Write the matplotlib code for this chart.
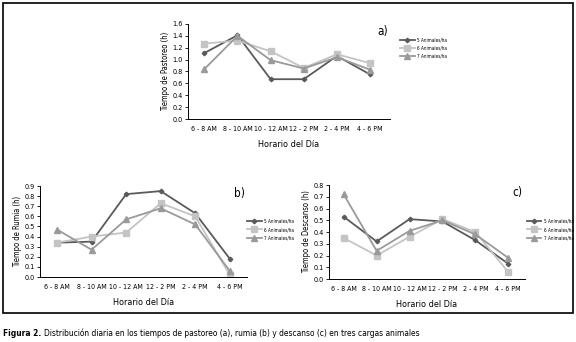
import matplotlib.pyplot as plt
from matplotlib.patches import Rectangle

plt.rcParams['font.family'] = ['DejaVu Sans']
plt.rcParams['font.stretch'] = 'condensed'

horas = ["6 - 8 AM", "8 - 10 AM", "10 - 12 AM", "12 - 2 PM", "2 - 4 PM", "4 - 6 PM"]
series = ["5 Animales/ha", "6 Animales/ha", "7 Animales/ha"]

# a) pastoreo
past_5 = [1.11, 1.41, 0.67, 0.67, 1.06, 0.75]
past_6 = [1.27, 1.32, 1.14, 0.86, 1.09, 0.94]
past_7 = [0.84, 1.40, 0.99, 0.85, 1.04, 0.83]
# b) rumia
rum_5 = [0.34, 0.35, 0.82, 0.85, 0.63, 0.18]
rum_6 = [0.34, 0.40, 0.44, 0.73, 0.60, 0.02]
rum_7 = [0.47, 0.27, 0.57, 0.68, 0.52, 0.06]
# c) descanso
desc_5 = [0.53, 0.32, 0.51, 0.49, 0.33, 0.13]
desc_6 = [0.35, 0.20, 0.36, 0.51, 0.40, 0.06]
desc_7 = [0.72, 0.24, 0.41, 0.50, 0.38, 0.18]

colores = ["#5a5a5a", "#c4c4c4", "#9a9a9a"]
marcas = ["D", "s", "^"]
tam = [2.3, 4.8, 4]

fig = plt.figure(figsize=(5.76, 3.42), dpi=100)
fig.patches.append(Rectangle((3/576, 1 - 313/342), 570/576, 310/342, transform=fig.transFigure,
                             fill=False, edgecolor="black", linewidth=1.2))


def panel(rect, datos, ymax, ystep, ylabel, letra, xlim, leg_pos):
    ax = fig.add_axes(rect)
    x = range(len(horas))
    lineas = []
    for d, c, m, s, lab in zip(datos, colores, marcas, tam, series):
        l, = ax.plot(x, d, color=c, marker=m, markersize=s, linewidth=1.3, label=lab)
        lineas.append(l)
    ax.set_ylim(0, ymax)
    n = int(round(ymax / ystep))
    ax.set_yticks([i * ystep for i in range(n + 1)])
    ax.set_yticklabels(["%.1f" % (i * ystep) for i in range(n + 1)])
    ax.set_xlim(*xlim)
    ax.set_xticks(list(x))
    ax.set_xticklabels(horas)
    ax.tick_params(axis="x", length=0, labelsize=5, pad=5)
    ax.tick_params(axis="y", length=2, width=0.6, labelsize=5.2, pad=1.5)
    for s in ["top", "right"]:
        ax.spines[s].set_visible(False)
    for s in ["left", "bottom"]:
        ax.spines[s].set_linewidth(0.7)
    ax.set_ylabel(ylabel, fontsize=5.5, labelpad=2)
    ax.set_xlabel("Horario del Día", fontsize=6.5, labelpad=6)
    ax.text(0.99, 0.99, letra, transform=ax.transAxes, fontsize=8.5, ha="right", va="top")
    ax.legend(lineas, series, loc="upper left", bbox_to_anchor=leg_pos, frameon=False,
              fontsize=3.3, handlelength=3.2, labelspacing=0.7, borderaxespad=0,
              handletextpad=0.5)
    return ax


panel([0.326, 0.652, 0.351, 0.278], [past_5, past_6, past_7], 1.6, 0.2,
      "Tiempo de Pastoreo (h)", "a)", (-0.5, 5.6), (1.04, 0.88))
panel([0.069, 0.190, 0.360, 0.266], [rum_5, rum_6, rum_7], 0.9, 0.1,
      "Tiempo de Rumia (h)", "b)", (-0.5, 5.5), (0.99, 0.66))
panel([0.571, 0.184, 0.340, 0.275], [desc_5, desc_6, desc_7], 0.8, 0.1,
      "Tiempo de Descanso (h)", "c)", (-0.45, 5.5), (1.0, 0.66))

t1 = fig.text(3/576, 1 - 333/342, "Figura 2.", fontsize=6, fontweight="bold", va="center", ha="left")
fig.canvas.draw()
bb = t1.get_window_extent()
fig.text((bb.x1 + 3) / 576, 1 - 333/342,
         "Distribución diaria en los tiempos de pastoreo (a), rumia (b) y descanso (c) en tres cargas animales",
         fontsize=6, va="center", ha="left")

fig.savefig("out.png", dpi=100)
